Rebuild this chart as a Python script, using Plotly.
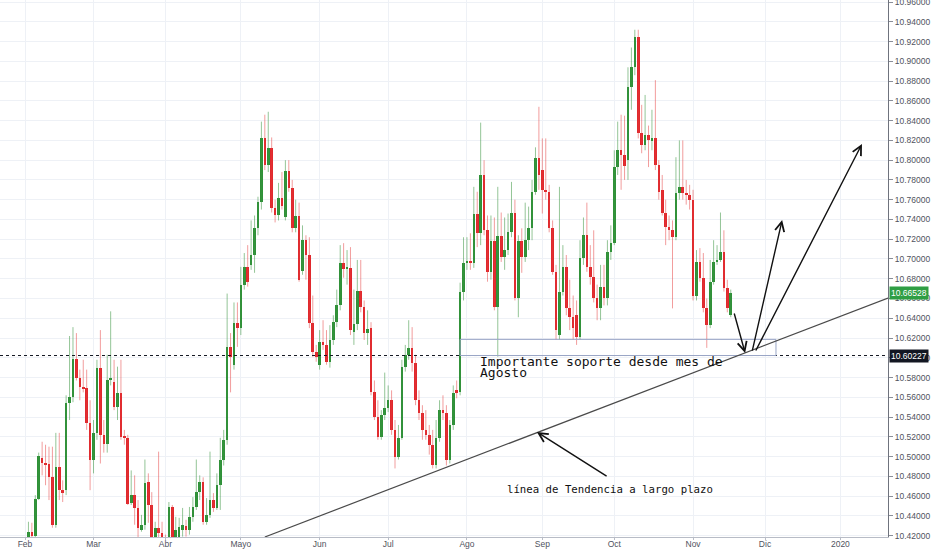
import plotly.graph_objects as go
import pandas as pd

# ---------------- data (daily bars, weekdays, 2019-02-04 .. 2019-11-18) ----------------
dates = pd.bdate_range("2019-02-04", periods=206)

open_ = [10.416, 10.424, 10.420, 10.457, 10.499, 10.494, 10.492, 10.479, 10.431, 10.489,
         10.466, 10.466, 10.554, 10.560, 10.599, 10.580, 10.570, 10.569, 10.534, 10.497,
         10.524, 10.590, 10.522, 10.513, 10.578, 10.575, 10.550, 10.564, 10.520, 10.519,
         10.453, 10.461, 10.448, 10.426, 10.431, 10.474, 10.451, 10.419, 10.428, 10.423,
         10.418, 10.419, 10.449, 10.419, 10.419, 10.426, 10.430, 10.426, 10.439, 10.449,
         10.464, 10.474, 10.434, 10.441, 10.456, 10.448, 10.471, 10.497, 10.517, 10.611,
         10.593, 10.635, 10.630, 10.674, 10.692, 10.694, 10.704, 10.731, 10.758, 10.822,
         10.795, 10.812, 10.752, 10.744, 10.762, 10.742, 10.789, 10.772, 10.731, 10.743,
         10.688, 10.719, 10.704, 10.635, 10.606, 10.593, 10.616, 10.613, 10.596, 10.618,
         10.636, 10.653, 10.696, 10.690, 10.691, 10.626, 10.634, 10.668, 10.651, 10.625,
         10.630, 10.565, 10.540, 10.520, 10.542, 10.549, 10.557, 10.527, 10.500, 10.519,
         10.591, 10.603, 10.610, 10.595, 10.557, 10.544, 10.527, 10.522, 10.512, 10.491,
         10.519, 10.547, 10.544, 10.497, 10.532, 10.567, 10.565, 10.667, 10.696, 10.697,
         10.696, 10.746, 10.726, 10.785, 10.729, 10.687, 10.718, 10.651, 10.723, 10.702,
         10.709, 10.727, 10.747, 10.660, 10.718, 10.702, 10.719, 10.731, 10.768, 10.802,
         10.790, 10.770, 10.768, 10.731, 10.687, 10.623, 10.667, 10.692, 10.650, 10.641,
         10.643, 10.621, 10.701, 10.724, 10.692, 10.682, 10.661, 10.650, 10.672, 10.661,
         10.707, 10.716, 10.793, 10.810, 10.805, 10.800, 10.874, 10.894, 10.925, 10.827,
         10.815, 10.825, 10.820, 10.822, 10.795, 10.770, 10.747, 10.732, 10.729, 10.722,
         10.767, 10.773, 10.767, 10.765, 10.760, 10.663, 10.697, 10.681, 10.650, 10.633,
         10.677, 10.697, 10.699, 10.707, 10.671, 10.643]

high = [10.434, 10.433, 10.461, 10.504, 10.515, 10.512, 10.510, 10.510, 10.524, 10.524,
        10.476, 10.562, 10.622, 10.631, 10.625, 10.588, 10.598, 10.588, 10.557, 10.537,
        10.598, 10.628, 10.537, 10.603, 10.647, 10.598, 10.591, 10.598, 10.527, 10.522,
        10.486, 10.481, 10.456, 10.441, 10.497, 10.483, 10.464, 10.434, 10.505, 10.434,
        10.421, 10.454, 10.451, 10.439, 10.438, 10.448, 10.436, 10.449, 10.459, 10.497,
        10.481, 10.479, 10.458, 10.505, 10.463, 10.483, 10.519, 10.527, 10.665, 10.625,
        10.656, 10.656, 10.692, 10.706, 10.714, 10.739, 10.744, 10.763, 10.839, 10.846,
        10.849, 10.823, 10.760, 10.777, 10.788, 10.800, 10.800, 10.780, 10.760, 10.757,
        10.734, 10.724, 10.722, 10.663, 10.613, 10.628, 10.638, 10.628, 10.633, 10.643,
        10.669, 10.714, 10.716, 10.709, 10.712, 10.669, 10.699, 10.699, 10.658, 10.648,
        10.636, 10.577, 10.557, 10.547, 10.585, 10.572, 10.567, 10.537, 10.532, 10.598,
        10.613, 10.638, 10.631, 10.603, 10.567, 10.552, 10.547, 10.532, 10.527, 10.537,
        10.557, 10.562, 10.552, 10.537, 10.572, 10.577, 10.676, 10.722, 10.722, 10.726,
        10.773, 10.768, 10.838, 10.800, 10.744, 10.744, 10.742, 10.773, 10.747, 10.742,
        10.746, 10.778, 10.760, 10.724, 10.731, 10.757, 10.753, 10.780, 10.813, 10.854,
        10.822, 10.822, 10.775, 10.739, 10.694, 10.773, 10.714, 10.704, 10.679, 10.663,
        10.658, 10.719, 10.742, 10.757, 10.714, 10.729, 10.674, 10.694, 10.694, 10.719,
        10.734, 10.810, 10.839, 10.846, 10.845, 10.894, 10.914, 10.932, 10.932, 10.856,
        10.866, 10.835, 10.851, 10.881, 10.800, 10.785, 10.760, 10.744, 10.739, 10.803,
        10.820, 10.820, 10.780, 10.775, 10.770, 10.709, 10.711, 10.706, 10.660, 10.699,
        10.719, 10.714, 10.747, 10.729, 10.679, 10.669]

low = [10.408, 10.408, 10.410, 10.456, 10.481, 10.471, 10.456, 10.428, 10.428, 10.456,
       10.454, 10.461, 10.537, 10.555, 10.577, 10.557, 10.565, 10.527, 10.466, 10.483,
       10.517, 10.493, 10.504, 10.504, 10.572, 10.547, 10.537, 10.517, 10.512, 10.451,
       10.451, 10.431, 10.416, 10.424, 10.426, 10.433, 10.410, 10.410, 10.416, 10.410,
       10.405, 10.416, 10.410, 10.416, 10.416, 10.419, 10.419, 10.421, 10.434, 10.446,
       10.456, 10.431, 10.431, 10.438, 10.444, 10.446, 10.446, 10.491, 10.512, 10.565,
       10.588, 10.611, 10.623, 10.669, 10.672, 10.689, 10.686, 10.724, 10.750, 10.790,
       10.788, 10.747, 10.737, 10.739, 10.750, 10.739, 10.768, 10.727, 10.727, 10.677,
       10.684, 10.679, 10.630, 10.601, 10.596, 10.588, 10.608, 10.593, 10.590, 10.613,
       10.631, 10.648, 10.681, 10.674, 10.623, 10.613, 10.628, 10.646, 10.618, 10.613,
       10.562, 10.537, 10.517, 10.517, 10.537, 10.545, 10.522, 10.488, 10.497, 10.517,
       10.586, 10.598, 10.586, 10.552, 10.537, 10.517, 10.517, 10.502, 10.488, 10.488,
       10.515, 10.537, 10.491, 10.493, 10.527, 10.559, 10.562, 10.658, 10.689, 10.689,
       10.691, 10.712, 10.714, 10.724, 10.677, 10.679, 10.648, 10.601, 10.697, 10.689,
       10.704, 10.722, 10.658, 10.641, 10.686, 10.697, 10.709, 10.719, 10.765, 10.770,
       10.746, 10.760, 10.727, 10.684, 10.618, 10.618, 10.663, 10.643, 10.628, 10.618,
       10.613, 10.618, 10.694, 10.687, 10.674, 10.656, 10.638, 10.638, 10.653, 10.653,
       10.699, 10.714, 10.785, 10.770, 10.780, 10.780, 10.851, 10.886, 10.822, 10.807,
       10.810, 10.793, 10.810, 10.790, 10.760, 10.744, 10.714, 10.719, 10.650, 10.719,
       10.760, 10.760, 10.755, 10.750, 10.658, 10.658, 10.677, 10.646, 10.610, 10.630,
       10.674, 10.694, 10.697, 10.667, 10.646, 10.641]

close = [10.424, 10.420, 10.457, 10.501, 10.494, 10.492, 10.479, 10.431, 10.489, 10.466,
         10.463, 10.554, 10.560, 10.599, 10.580, 10.570, 10.569, 10.534, 10.497, 10.524,
         10.590, 10.522, 10.513, 10.578, 10.580, 10.550, 10.564, 10.520, 10.519, 10.452,
         10.461, 10.448, 10.428, 10.431, 10.473, 10.451, 10.416, 10.428, 10.423, 10.418,
         10.410, 10.449, 10.419, 10.426, 10.429, 10.431, 10.426, 10.439, 10.449, 10.464,
         10.474, 10.434, 10.441, 10.456, 10.448, 10.471, 10.497, 10.517, 10.611, 10.601,
         10.635, 10.630, 10.674, 10.692, 10.677, 10.704, 10.731, 10.758, 10.822, 10.795,
         10.812, 10.752, 10.744, 10.762, 10.754, 10.789, 10.772, 10.731, 10.743, 10.679,
         10.719, 10.704, 10.635, 10.606, 10.601, 10.616, 10.613, 10.596, 10.618, 10.636,
         10.653, 10.696, 10.690, 10.691, 10.628, 10.634, 10.668, 10.651, 10.625, 10.629,
         10.565, 10.540, 10.520, 10.542, 10.549, 10.557, 10.527, 10.500, 10.519, 10.591,
         10.603, 10.610, 10.595, 10.557, 10.544, 10.527, 10.522, 10.512, 10.491, 10.519,
         10.547, 10.544, 10.497, 10.532, 10.564, 10.565, 10.667, 10.696, 10.697, 10.696,
         10.746, 10.726, 10.785, 10.729, 10.687, 10.718, 10.651, 10.723, 10.702, 10.709,
         10.727, 10.747, 10.660, 10.718, 10.702, 10.719, 10.731, 10.768, 10.802, 10.785,
         10.770, 10.768, 10.731, 10.687, 10.628, 10.667, 10.692, 10.650, 10.641, 10.630,
         10.621, 10.701, 10.724, 10.692, 10.682, 10.661, 10.650, 10.672, 10.661, 10.707,
         10.716, 10.793, 10.810, 10.805, 10.794, 10.874, 10.894, 10.925, 10.827, 10.815,
         10.825, 10.820, 10.822, 10.795, 10.768, 10.747, 10.732, 10.729, 10.722, 10.767,
         10.773, 10.767, 10.765, 10.760, 10.663, 10.697, 10.681, 10.650, 10.633, 10.677,
         10.697, 10.699, 10.707, 10.671, 10.650, 10.66528]

month_labels = ["Feb", "Mar", "Abr", "Mayo", "Jun", "Jul", "Ago", "Sep", "Oct", "Nov", "Dic", "2020"]

support_level = 10.60227
last_price = 10.66528
support_zone = [10.6023, 10.6186]          # price bounds of the support box
support_text = ["Importante soporte desde mes de", "Agosto"]
trend_text = "línea de Tendencia a largo plazo"

# ---------------- axis helpers (trading-day index) ----------------
calendar = pd.bdate_range("2019-02-01", "2020-01-31")
pos = {d: k for k, d in enumerate(calendar)}
xs = [pos[d] for d in dates]
tickvals = [k for k, d in enumerate(calendar) if k == 0 or d.month != calendar[k - 1].month]
tickvals = tickvals[:len(month_labels)]

X_RANGE = [-7.3, 251.9]
Y_RANGE = [10.4186, 10.9621]

GREEN, RED = "#2f9138", "#e0282d"
GREEN_W, RED_W = "rgba(60,150,65,0.55)", "rgba(230,60,60,0.5)"

fig = go.Figure()

# wicks
for up, col in ((True, GREEN_W), (False, RED_W)):
    wx, wy = [], []
    for x, o, h, l, c in zip(xs, open_, high, low, close):
        if (c >= o) == up:
            wx += [x, x, None]
            wy += [l, h, None]
    fig.add_trace(go.Scatter(x=wx, y=wy, mode="lines", line=dict(color=col, width=1),
                             hoverinfo="skip", showlegend=False))

# bodies
for up, col in ((True, GREEN), (False, RED)):
    bx, bb, bh = [], [], []
    for x, o, c in zip(xs, open_, close):
        if (c >= o) == up:
            bx.append(x)
            bb.append(min(o, c))
            bh.append(max(abs(c - o), 0.0008))
    fig.add_trace(go.Bar(x=bx, y=bh, base=bb, width=0.76, marker=dict(color=col, line=dict(width=0)),
                         hoverinfo="skip", showlegend=False))

shapes = []
# horizontal dotted support level
shapes.append(dict(type="line", xref="paper", x0=0, x1=1, yref="y", y0=support_level, y1=support_level,
                   line=dict(color="#131722", width=1, dash="dot"), layer="above"))
# support box
shapes.append(dict(type="rect", xref="x", yref="y", x0=127.0, x1=219.2, y0=support_zone[0], y1=support_zone[1],
                   line=dict(color="#9aa6c6", width=1), fillcolor="rgba(0,0,0,0)", layer="above"))
# long term trend line
shapes.append(dict(type="line", xref="x", yref="y", x0=70.0, y0=Y_RANGE[0], x1=X_RANGE[1], y1=10.6605,
                   line=dict(color="#4a4a4a", width=1.2), layer="above"))

annotations = []
# arrows (head x,y ; tail ax,ay)
arrows = [
    (210.2, 10.6048, 206.9, 10.6463),
    (221.0, 10.7394, 212.2, 10.6058),
    (244.3, 10.8164, 213.1, 10.6058),
    (149.4, 10.5249, 170.2, 10.4793),
]
for hx, hy, tx, ty in arrows:
    annotations.append(dict(x=hx, y=hy, ax=tx, ay=ty, xref="x", yref="y", axref="x", ayref="y",
                            text="", showarrow=True, arrowhead=5, arrowsize=1.3, arrowwidth=1.4,
                            arrowcolor="#111111", standoff=0, startstandoff=0))

annotations.append(dict(x=132.2, y=10.5965, xref="x", yref="y", text=support_text[0], showarrow=False,
                        xanchor="left", yanchor="middle",
                        font=dict(family="DejaVu Sans Mono", size=13, color="#111111")))
annotations.append(dict(x=132.2, y=10.5850, xref="x", yref="y", text=support_text[1], showarrow=False,
                        xanchor="left", yanchor="middle",
                        font=dict(family="DejaVu Sans Mono", size=13, color="#111111")))
annotations.append(dict(x=140.1, y=10.4665, xref="x", yref="y", text=trend_text, showarrow=False,
                        xanchor="left", yanchor="middle",
                        font=dict(family="DejaVu Sans Mono", size=10.7, color="#111111")))

# price labels on the axis
for price, bg in ((last_price, "#2f9e44"), (support_level, "#131722")):
    annotations.append(dict(x=1, y=price, xref="paper", yref="y", xanchor="left", yanchor="middle",
                            xshift=1, text=f"{price:.5f}", showarrow=False, bgcolor=bg, borderpad=1,
                            font=dict(family="Liberation Sans", size=8.5, color="white")))

fig.update_layout(
    width=932, height=550,
    margin=dict(l=0, r=44, t=0, b=13),
    paper_bgcolor="white", plot_bgcolor="white",
    barmode="overlay", bargap=0,
    showlegend=False, hovermode=False,
    shapes=shapes, annotations=annotations,
    xaxis=dict(range=X_RANGE, tickmode="array", tickvals=tickvals, ticktext=month_labels,
               showgrid=True, gridcolor="#eef1f6", gridwidth=1, zeroline=False,
               showline=True, linecolor="#b8bcc6", linewidth=1, ticks="outside", ticklen=2,
               tickcolor="#b8bcc6", tickfont=dict(family="Liberation Sans", size=8.5, color="#50535e"),
               ticklabelstandoff=-3, ticklabeloverflow="allow",
               fixedrange=True, automargin=False),
    yaxis=dict(range=Y_RANGE, side="right", tick0=10.42, dtick=0.02, tickformat=".5f",
               showgrid=True, gridcolor="#eef1f6", gridwidth=1, zeroline=False,
               showline=True, linecolor="#6f737d", linewidth=1, ticks="outside", ticklen=4,
               tickcolor="#8a8e98", tickfont=dict(family="Liberation Sans", size=8.5, color="#50535e"),
               ticklabeloverflow="allow",
               fixedrange=True, automargin=False),
)

fig.write_html("out.html", config={"displayModeBar": False},
               post_script="document.body.style.margin='0';document.body.style.overflow='hidden';")
